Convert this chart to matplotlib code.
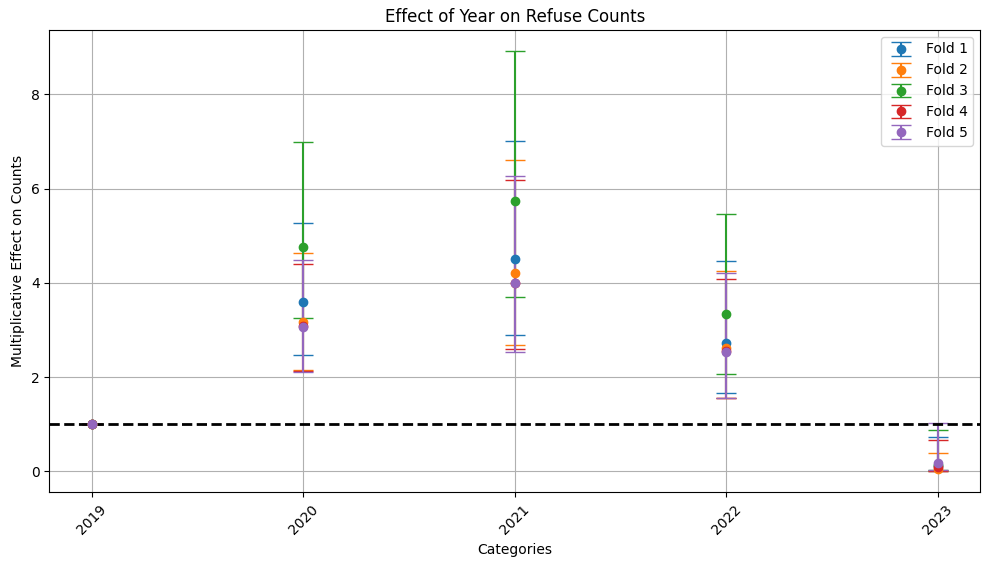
import matplotlib
matplotlib.use("Agg")
import matplotlib.pyplot as plt
import numpy as np

categories = ["2019", "2020", "2021", "2022", "2023"]
fold_names = ["Fold 1", "Fold 2", "Fold 3", "Fold 4", "Fold 5"]
means = [
    [1.0, 3.60, 4.50, 2.72, 0.12],
    [1.0, 3.16, 4.21, 2.62, 0.05],
    [1.0, 4.76, 5.74, 3.35, 0.14],
    [1.0, 3.08, 4.00, 2.55, 0.10],
    [1.0, 3.06, 3.99, 2.54, 0.18],
]
lowers = [
    [1.0, 2.48, 2.89, 1.67, 0.01],
    [1.0, 2.15, 2.68, 1.56, 0.00],
    [1.0, 3.25, 3.70, 2.06, 0.02],
    [1.0, 2.12, 2.60, 1.55, 0.01],
    [1.0, 2.10, 2.54, 1.55, 0.02],
]
uppers = [
    [1.0, 5.27, 7.01, 4.46, 0.74],
    [1.0, 4.63, 6.61, 4.25, 0.40],
    [1.0, 6.99, 8.92, 5.46, 0.87],
    [1.0, 4.40, 6.18, 4.08, 0.67],
    [1.0, 4.48, 6.27, 4.21, 1.03],
]

fig, ax = plt.subplots(figsize=(9.88, 5.66), dpi=100)
for name, m, lo, up in zip(fold_names, means, lowers, uppers):
    m = np.array(m); lo = np.array(lo); up = np.array(up)
    ax.errorbar(categories, m, yerr=[m - lo, up - m], fmt='o', capsize=7, label=name)
ax.axhline(1, color='black', linestyle='--', linewidth=2)
ax.set_title("Effect of Year on Refuse Counts")
ax.set_xlabel("Categories")
ax.set_ylabel("Multiplicative Effect on Counts")
ax.grid(True)
plt.xticks(rotation=45)
ax.legend(loc='upper right')
fig.subplots_adjust(left=0.05, right=0.992, top=0.947, bottom=0.13)
fig.savefig("out.png")
